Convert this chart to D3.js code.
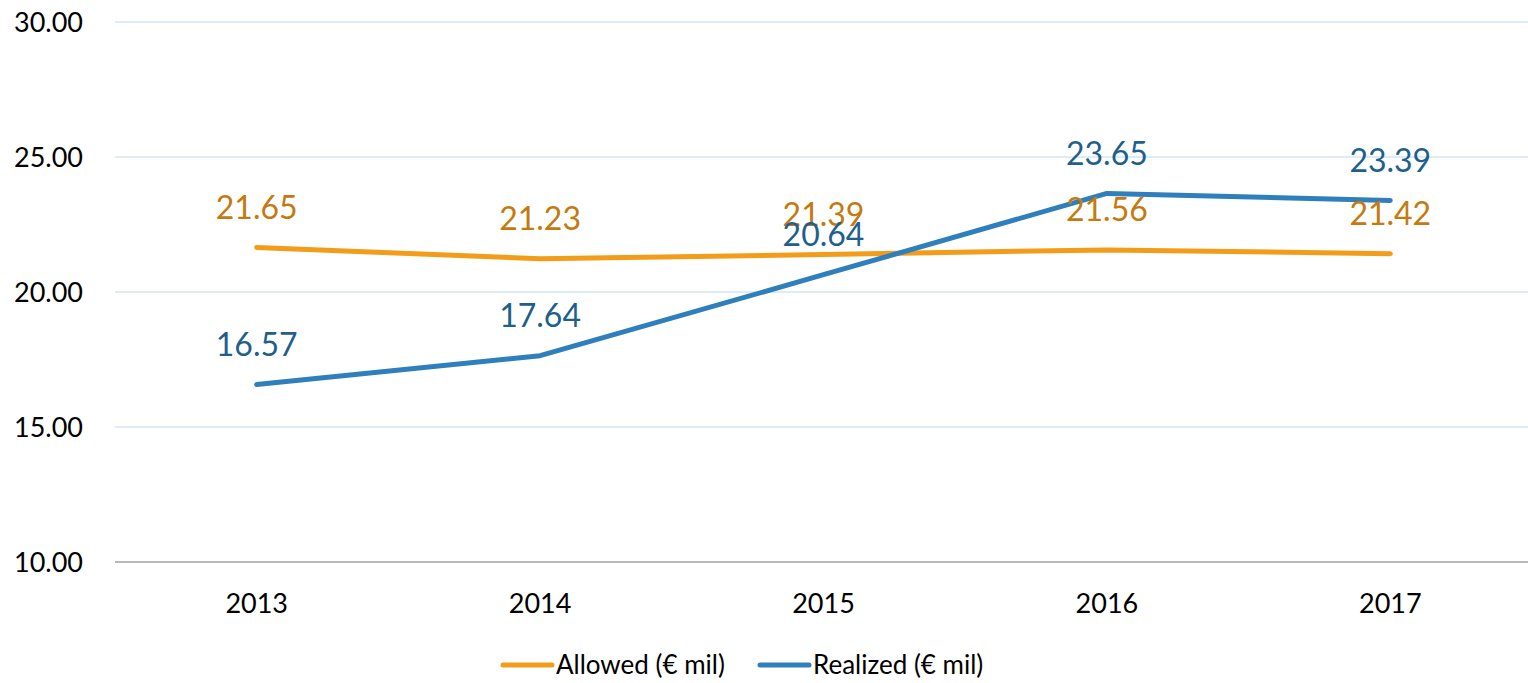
<!DOCTYPE html>
<html>
<head>
<meta charset="utf-8">
<script src="https://cdn.jsdelivr.net/npm/d3@7"></script>
<style>
  body { margin: 0; background: #fff; }
  svg { display: block; font-family: Lato, "Noto Sans", sans-serif; }
</style>
</head>
<body>
<svg id="chart" width="1528" height="683"></svg>
<script>
// data
const years = ["2013", "2014", "2015", "2016", "2017"];
const allowed = [21.65, 21.23, 21.39, 21.56, 21.42];
const realized = [16.57, 17.64, 20.64, 23.65, 23.39];
const yTicks = [10, 15, 20, 25, 30];
const seriesNames = ["Allowed (€ mil)", "Realized (€ mil)"];

const series = [
  { name: seriesNames[0], values: allowed, line: "#F39C1A", label: "#C47A0E" },
  { name: seriesNames[1], values: realized, line: "#2E7FBB", label: "#1F5F8B" }
];

const svg = d3.select("#chart");
const plotLeft = 115, plotRight = 1532, plotTop = 22, plotBottom = 562;

const x = d3.scalePoint().domain(years).range([plotLeft, plotRight]).padding(0.5);
const y = d3.scaleLinear().domain([10, 30]).range([plotBottom, plotTop]);

// gridlines
svg.append("g")
  .selectAll("line")
  .data(yTicks.filter(d => d !== 10))
  .join("line")
  .attr("x1", plotLeft).attr("x2", 1528)
  .attr("y1", d => y(d)).attr("y2", d => y(d))
  .attr("stroke", "#D5E5F2").attr("stroke-width", 1.5);

// baseline
svg.append("line")
  .attr("x1", plotLeft).attr("x2", 1528)
  .attr("y1", y(10)).attr("y2", y(10))
  .attr("stroke", "#A0A0A0").attr("stroke-width", 1.5);

// y labels
svg.append("g")
  .selectAll("text")
  .data(yTicks)
  .join("text")
  .attr("x", 83).attr("y", d => y(d))
  .attr("dy", "0.36em")
  .attr("text-anchor", "end")
  .style("font-size", "27px")
  .attr("fill", "#000")
  .text(d => d.toFixed(2));

// x labels
svg.append("g")
  .selectAll("text")
  .data(years)
  .join("text")
  .attr("x", d => x(d)).attr("y", 603)
  .attr("dy", "0.36em")
  .attr("text-anchor", "middle")
  .style("font-size", "27px")
  .attr("fill", "#000")
  .text(d => d);

const line = d3.line()
  .x((d, i) => x(years[i]))
  .y(d => y(d));

series.forEach(s => {
  svg.append("path")
    .datum(s.values)
    .attr("d", line)
    .attr("fill", "none")
    .attr("stroke", s.line)
    .attr("stroke-width", 5)
    .attr("stroke-linecap", "round")
    .attr("stroke-linejoin", "round");
});

// data labels (they overlap at 2015 in the original too)
series.forEach(s => {
  svg.append("g")
    .selectAll("text")
    .data(s.values)
    .join("text")
    .attr("x", (d, i) => x(years[i]))
    .attr("y", d => y(d) - 40)
    .attr("dy", "0.36em")
    .attr("text-anchor", "middle")
    .style("font-size", "32px")
    .attr("fill", s.label)
    .text(d => d.toFixed(2));
});

// legend
const legendPos = [503, 760];
const legend = svg.append("g")
  .selectAll("g")
  .data(series)
  .join("g")
  .attr("transform", (d, i) => `translate(${legendPos[i]},665)`);

legend.append("line")
  .attr("x1", 0).attr("x2", 49)
  .attr("stroke", d => d.line)
  .attr("stroke-width", 5)
  .attr("stroke-linecap", "round");

legend.append("text")
  .attr("x", 53).attr("dy", "0.36em")
  .style("font-size", "26px")
  .attr("fill", "#000")
  .text(d => d.name);
</script>
</body>
</html>
